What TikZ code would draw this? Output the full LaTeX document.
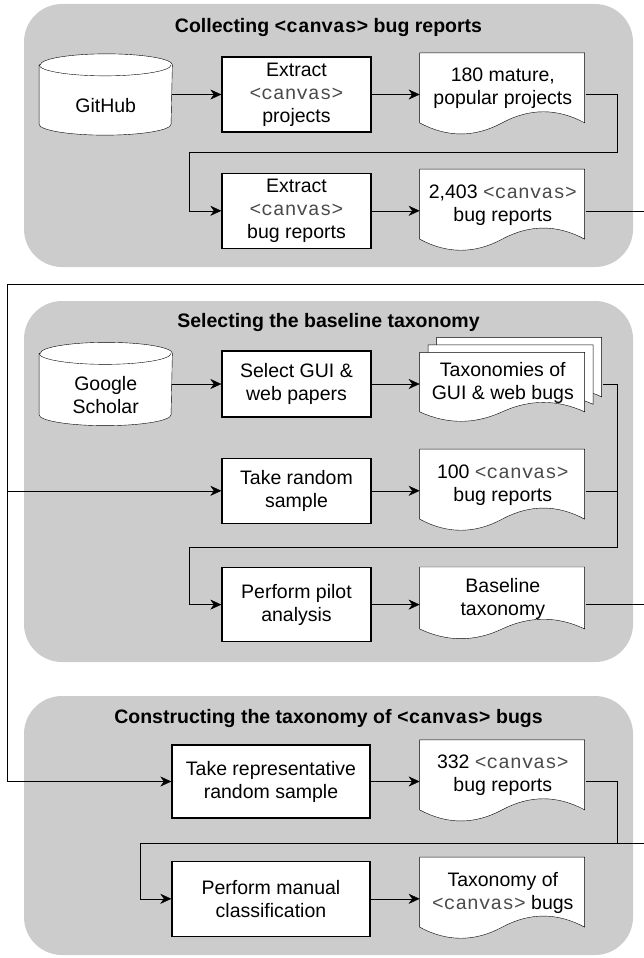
\documentclass[tikz,border=0pt]{standalone}
\usepackage{fontspec}
\setmainfont{Liberation Sans}
\setsansfont{Liberation Sans}
\setmonofont{Liberation Mono}
\usetikzlibrary{arrows.meta,calc,positioning}
\pgfdeclarelayer{panels}
\pgfdeclarelayer{shapes}
\pgfsetlayers{panels,shapes,main}
\definecolor{panel_grey}{RGB}{204,204,204}
\definecolor{tag_grey}{RGB}{75,75,75}
\newcommand{\tagcv}{{\ttfamily\color{tag_grey}<canvas>}}
\newcommand{\tagcvb}{{\ttfamily\bfseries <canvas>}}
\tikzset{
  flownode/.style = {align=center, inner sep=2pt, text=black, font=\fontsize{19.5}{23}\selectfont},
  flow_box/.style = {flownode, draw, fill=white, minimum width=149pt, minimum height=75pt},
  flow_doc/.style = {flownode, draw=none, minimum width=165pt, minimum height=70pt, yshift=6pt},
  flow_multi/.style = {flownode, draw=none, minimum width=165pt, minimum height=59.5pt, yshift=1.25pt},
  flow_db/.style = {flownode, draw=none, minimum width=132pt, minimum height=58pt},
  flow_title/.style = {flownode, font=\fontsize{19.5}{23}\selectfont\bfseries},
  docline/.style = {draw, fill=white}
}
% document shape: start point, width, height down to the wave, wave depth
\newcommand{\docoutline}[4]{%
  \path[docline] #1 -- ++(#2,0) -- ++(0,#3)
    .. controls +(-#2/6,-#4) and +(#2/6,-#4) .. ++(-#2/2,0)
    .. controls +(-#2/6,#4) and +(#2/6,#4) .. ++(-#2/2,0) -- cycle;}
% database shape round a node
\newcommand{\dboutline}[1]{%
  \path[docline] ($(#1.north west)+(0,-11)$) -- ($(#1.south west)+(0,-11)$)
    arc[start angle=180, end angle=360, x radius=66pt, y radius=11pt]
    -- ($(#1.north east)+(0,-11)$)
    arc[start angle=0, end angle=180, x radius=66pt, y radius=11pt] -- cycle;
  \draw ($(#1.north west)+(0,-11)$)
    arc[start angle=180, end angle=360, x radius=66pt, y radius=11pt];}

\begin{document}
\begin{tikzpicture}[x=1pt, y=-1pt, line width=1.3pt,
    >={Stealth[length=11pt, width=10pt, inset=3.5pt]}]
  \useasboundingbox (0,0) rectangle (644,958);

  % collecting
  \node (titleA) [flow_title] at (328.5,28) {Collecting \tagcvb{} bug reports};
  \node (extProj) [flow_box] at (296.5,94.5) {Extract\\\tagcv\\projects};
  \node (github) [flow_db, left=49pt of extProj, yshift=-11pt] {GitHub};
  \node (popProj) [flow_doc, right=48pt of extProj] {180 mature,\\popular projects};
  \node (extBugs) [flow_box, below=40pt of extProj] {Extract\\\tagcv\\bug reports};
  \node (bugRep) [flow_doc, right=48pt of extBugs] {2,403 \tagcv\\bug reports};

  % baseline
  \node (titleB) [flow_title] at (328.5,322) {Selecting the baseline taxonomy};
  \node (selPapers) [flow_box, minimum height=66pt] at (296.5,384) {Select GUI \&\\web papers};
  \node (scholar) [flow_db, minimum height=60pt, left=49pt of selPapers, yshift=-11pt] {Google\\Scholar};
  \node (taxGui) [flow_multi, right=48pt of selPapers] {Taxonomies of\\GUI \& web bugs};
  \node (takeSample) [flow_box, minimum height=65pt, below=40pt of selPapers] {Take random\\sample};
  \node (sampleRep) [flow_doc, right=48pt of takeSample] {100 \tagcv\\bug reports};
  \node (pilot) [flow_box, minimum height=74pt, below=43pt of takeSample] {Perform pilot\\analysis};
  \node (baseline) [flow_doc, minimum height=62pt, right=48pt of pilot] {Baseline\\taxonomy};

  % taxonomy
  \node (titleC) [flow_title] at (328.5,718) {Constructing the taxonomy of \tagcvb{} bugs};
  \node (takeRep) [flow_box, minimum width=198pt, minimum height=73pt] at (271,781.5) {Take representative\\random sample};
  \node (repSample) [flow_doc, right=49pt of takeRep] {332 \tagcv\\bug reports};
  \node (manual) [flow_box, minimum width=198pt, below=42pt of takeRep] {Perform manual\\classification};
  \node (finalTax) [flow_doc, right=49pt of manual] {Taxonomy of\\\tagcv{} bugs};

  \begin{pgfonlayer}{panels}
    \fill[panel_grey, rounded corners=38pt] (24,4) rectangle (633,267);
    \fill[panel_grey, rounded corners=38pt] (24,301) rectangle (633,662);
    \fill[panel_grey, rounded corners=38pt] (24,696) rectangle (633,955);
  \end{pgfonlayer}

  \begin{pgfonlayer}{shapes}
    \foreach \n in {github,scholar} {\dboutline{\n}}
    \foreach \n in {popProj,bugRep,sampleRep,repSample,finalTax}
      {\docoutline{(\n.north west)}{165}{70}{14.8}}
    \docoutline{(baseline.north west)}{165}{62}{13}
    \docoutline{($(taxGui.north west)+(17,-15)$)}{165}{59.5}{12.6}
    \docoutline{($(taxGui.north west)+(8.5,-7.5)$)}{165}{59.5}{12.6}
    \docoutline{(taxGui.north west)}{165}{59.5}{12.6}
  \end{pgfonlayer}

  \coordinate (bendA) at (617,152);
  \coordinate (turnA) at (189,152);
  \coordinate (outA) at (660,284);
  \coordinate (trunk) at (7,284);
  \coordinate (taxR) at ([xshift=17pt]taxGui.east);
  \coordinate (bendB) at (617,547);
  \coordinate (turnB) at (189,547);
  \coordinate (outB) at (660,843);
  \coordinate (bendC) at (617,843);
  \coordinate (turnC) at (140,843);

  \draw[->] (github.east |- extProj) -- (extProj);
  \draw[->] (extProj) -- (extProj -| popProj.west);
  \draw[->] (popProj.east |- extProj) -| (bendA) -- (turnA) |- (extBugs);
  \draw[->] (extBugs) -- (extBugs -| bugRep.west);
  \draw[->] (bugRep.east |- extBugs) -| (outA) -- (trunk) |- (takeSample);
  \draw[->] (trunk) |- (takeRep);

  \draw[->] (scholar.east |- selPapers) -- (selPapers);
  \draw[->] (selPapers) -- (selPapers -| taxGui.west);
  \draw[->] (taxR |- selPapers) -| (bendB) -- (turnB) |- (pilot);
  \draw[->] (takeSample) -- (takeSample -| sampleRep.west);
  \draw (sampleRep.east |- takeSample) -| (bendB);
  \draw[->] (pilot) -- (pilot -| baseline.west);
  \draw[->] (baseline.east |- pilot) -| (outB) -- (turnC) |- (manual);

  \draw[->] (takeRep) -- (takeRep -| repSample.west);
  \draw (repSample.east |- takeRep) -| (bendC);
  \draw[->] (manual) -- (manual -| finalTax.west);
\end{tikzpicture}
\end{document}
